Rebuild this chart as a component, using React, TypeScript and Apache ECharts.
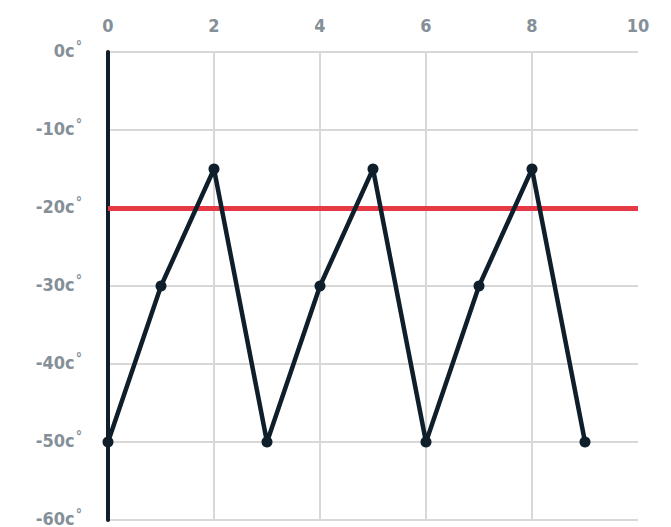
import React, { useEffect, useRef } from "react";
import * as echarts from "echarts";

const xValues = [0, 1, 2, 3, 4, 5, 6, 7, 8, 9];
const temps = [-50, -30, -15, -50, -30, -15, -50, -30, -15, -50];
const threshold = -20;
const xTicks = [0, 2, 4, 6, 8, 10];
const yTicks = [0, -10, -20, -30, -40, -50, -60];

export default function App() {
  const ref = useRef<HTMLDivElement>(null);
  useEffect(() => {
    if (!ref.current) return;
    const chart = echarts.init(ref.current, null, { renderer: "svg" });
    const labelStyle = {
      color: "#858f98",
      fontFamily: "DejaVu Sans Condensed, DejaVu Sans",
      fontWeight: "bold" as any,
      fontSize: 18,
    };
    chart.setOption({
      animation: false,
      grid: { left: 100, right: 33, top: 44, bottom: 7, containLabel: false },
      xAxis: {
        type: "value",
        position: "top",
        min: xTicks[0],
        max: xTicks[xTicks.length - 1],
        interval: 2,
        axisLine: { show: false },
        axisTick: { show: false },
        axisLabel: { ...labelStyle, margin: 18 },
        splitLine: { show: true, showMaxLine: false, lineStyle: { color: "#d8d8d8", width: 2 } },
      },
      yAxis: {
        type: "value",
        min: yTicks[yTicks.length - 1],
        max: yTicks[0],
        interval: 10,
        axisLine: { show: true, onZero: false, lineStyle: { color: "#0f1e2b", width: 4 } },
        axisTick: { show: false },
        axisLabel: {
          ...labelStyle,
          margin: 26,
          formatter: (v: number) => `{v|${v}c}{d|°}`,
          rich: {
            v: { ...labelStyle, padding: [0, 0, 4, 0] },
            d: { ...labelStyle, fontSize: 14, verticalAlign: "top", padding: [0, 0, 12, 1] },
          },
        },
        splitLine: { show: true, lineStyle: { color: "#d8d8d8", width: 2 } },
      },
      series: [
        {
          type: "line",
          data: xValues.map((x, i) => [x, temps[i]]),
          symbol: "circle",
          symbolSize: 11,
          lineStyle: { color: "#0f1e2b", width: 4.5 },
          itemStyle: { color: "#0f1e2b" },
          z: 3,
          markLine: {
            silent: true,
            symbol: "none",
            label: { show: false },
            lineStyle: { color: "#e63946", width: 5, type: "solid" },
            data: [{ yAxis: threshold }],
            z: 2,
          },
        },
      ],
    });
    return () => chart.dispose();
  }, []);
  return <div ref={ref} style={{ width: 663, height: 519 }} />;
}
